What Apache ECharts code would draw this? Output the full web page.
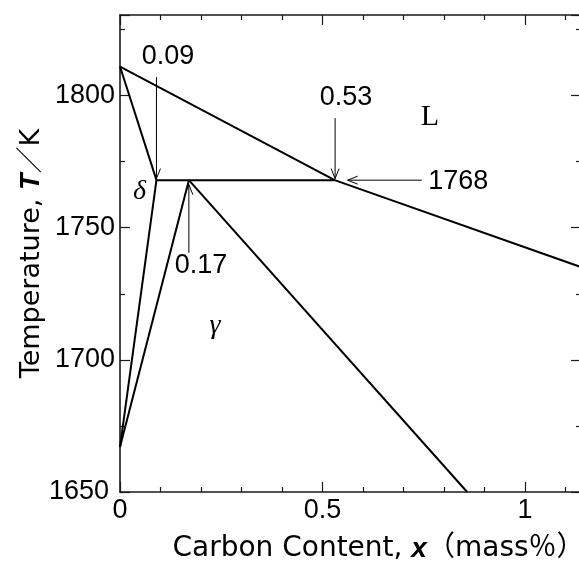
<!DOCTYPE html>
<html>
<head>
<meta charset="utf-8">
<script src="https://cdn.jsdelivr.net/npm/echarts@6/dist/echarts.min.js"></script>
<style>
html,body{margin:0;padding:0;background:#fff;}
#chart{width:579px;height:563px;}
</style>
</head>
<body>
<div id="chart"></div>
<script>
// ---- data ----
const X_MIN = 0, X_MAX = 1.138;
const Y_MIN = 1650, Y_MAX = 1830.5;

const liquidus      = [[0, 1811], [0.53, 1768], [1.14, 1735]];
const deltaSolidus  = [[0, 1811], [0.09, 1768]];
const peritectic    = [[0.09, 1768], [0.53, 1768]];
const deltaGammaA   = [[0.09, 1768], [0, 1667]];
const deltaGammaB   = [[0.17, 1768], [0, 1667]];
const gammaSolidus  = [[0.17, 1768], [0.857, 1650]];

// arrows: [tailX, tailT, headX, headT]
const arrows = [
  [0.09, 1807, 0.09, 1768.6],
  [0.531, 1791.5, 0.531, 1768.6],
  [0.745, 1768, 0.562, 1768],
  [0.17, 1740.5, 0.17, 1766.3]
];

const numLabels  = ['0.09', '0.53', '1768', '0.17'];
const numLabelX  = [0.1185, 0.558, 0.835, 0.200];
const numLabelT  = [1814.7, 1799.1, 1767.3, 1735.8];

const phaseLabels = ['L', 'δ', 'γ'];
const phaseItalic = [false, true, true];
const phaseX      = [0.765, 0.048, 0.2346];
const phaseT      = [1791.7, 1763.8, 1713.1];

// ---- chart ----
const chart = echarts.init(document.getElementById('chart'), null, {renderer: 'canvas'});
const SANS = '"Liberation Sans", Arial, sans-serif';
const WIDE = '"DejaVu Sans", "Noto Sans CJK JP", sans-serif';
const SERIF = '"Liberation Serif", "Times New Roman", serif';
function axisLine() { return {show: true, onZero: false, lineStyle: {color: '#1a1a1a', width: 1.6}}; }
function majorTick() { return {show: true, inside: true, length: 10, lineStyle: {color: '#1a1a1a', width: 1.2}}; }
function minorTick(n) { return {show: true, splitNumber: n, length: 5, lineStyle: {color: '#1a1a1a', width: 1.2}}; }

function lineSeries(d) {
  return {type: 'line', data: d, showSymbol: false, symbol: 'none',
          lineStyle: {color: '#000', width: 2}, animation: false, z: 3};
}

function titleRich(size) {
  return {
    r: {fontSize: size, fontFamily: WIDE, color: '#000'},
    b: {fontSize: size, fontFamily: SANS, fontWeight: 'bold', fontStyle: 'italic', color: '#000'}
  };
}

const option = {
  animation: false,
  backgroundColor: '#fff',
  grid: {left: 120, top: 15, width: 461, height: 477, containLabel: false, outerBoundsMode: 'none'},
  xAxis: [
    {type: 'value', position: 'bottom', min: X_MIN, max: X_MAX, interval: 0.5,
     axisLine: axisLine(), axisTick: majorTick(), minorTick: minorTick(5),
     splitLine: {show: false}, minorSplitLine: {show: false},
     axisLabel: {show: true, inside: false, margin: 5, color: '#000', fontSize: 27, fontFamily: SANS, showMaxLabel: false,
                 formatter: v => String(v)},
     name: '{r|Carbon Content, }{b|x}{r|（mass％）}',
     nameLocation: 'middle', nameGap: 43,
     nameTextStyle: {padding: [0, 0, 0, 56], rich: titleRich(28)}},
    {type: 'value', position: 'top', min: X_MIN, max: X_MAX, interval: 0.5,
     axisLine: axisLine(), axisTick: majorTick(), minorTick: minorTick(5),
     splitLine: {show: false}, axisLabel: {show: false}}
  ],
  yAxis: [
    {type: 'value', position: 'left', min: Y_MIN, max: Y_MAX, interval: 50,
     axisLine: axisLine(), axisTick: majorTick(), minorTick: minorTick(2),
     splitLine: {show: false},
     axisLabel: {show: true, inside: false, margin: 5, color: '#000', fontSize: 27, fontFamily: SANS, showMaxLabel: false,
                 formatter: v => (v === 1650 ? '{s|1650}' : String(v)),
                 rich: {s: {fontSize: 27, fontFamily: SANS, color: '#000', padding: [0, 6, 0, 0]}}},
     name: '{r|Temperature, }{b|T}{r|／K}',
     nameLocation: 'middle', nameGap: 75, nameMoveOverlap: false,
     nameTextStyle: {rich: titleRich(27)}},
    {type: 'value', position: 'right', min: Y_MIN, max: Y_MAX, interval: 50,
     axisLine: axisLine(), axisTick: majorTick(), minorTick: minorTick(2),
     splitLine: {show: false}, axisLabel: {show: false}}
  ],
  series: [
    lineSeries(liquidus),
    lineSeries(deltaSolidus),
    lineSeries(peritectic),
    lineSeries(deltaGammaA),
    lineSeries(deltaGammaB),
    lineSeries(gammaSolidus),
    {
      type: 'custom', coordinateSystem: 'cartesian2d', data: arrows, z: 4, silent: true,
      encode: {x: [0, 2], y: [1, 3]},
      renderItem: function (params, api) {
        const p1 = api.coord([api.value(0), api.value(1)]);
        const p2 = api.coord([api.value(2), api.value(3)]);
        const dx = p2[0] - p1[0], dy = p2[1] - p1[1];
        const len = Math.hypot(dx, dy) || 1;
        const ux = dx / len, uy = dy / len;
        const hl = 10, hw = 4;
        const b = [p2[0] - ux * hl, p2[1] - uy * hl];
        const l = [b[0] - uy * hw, b[1] + ux * hw];
        const r = [b[0] + uy * hw, b[1] - ux * hw];
        return {type: 'group', children: [
          {type: 'line', shape: {x1: p1[0], y1: p1[1], x2: p2[0], y2: p2[1]},
           style: {stroke: '#000', lineWidth: 1, fill: null}},
          {type: 'polyline', shape: {points: [l, p2, r]},
           style: {stroke: '#000', lineWidth: 1, fill: null}}
        ]};
      }
    },
    {
      type: 'custom', coordinateSystem: 'cartesian2d', z: 5, silent: true,
      data: numLabelX.map((x, i) => [x, numLabelT[i]]),
      renderItem: function (params, api) {
        const p = api.coord([api.value(0), api.value(1)]);
        return {type: 'text', x: p[0], y: p[1], style: {
          text: numLabels[params.dataIndex], fill: '#000',
          fontSize: 27, fontFamily: SANS, align: 'center', verticalAlign: 'middle'}};
      }
    },
    {
      type: 'custom', coordinateSystem: 'cartesian2d', z: 5, silent: true,
      data: phaseX.map((x, i) => [x, phaseT[i]]),
      renderItem: function (params, api) {
        const p = api.coord([api.value(0), api.value(1)]);
        const i = params.dataIndex;
        return {type: 'text', x: p[0], y: p[1], style: {
          text: phaseLabels[i], fill: '#000',
          fontSize: i === 0 ? 30 : 28, fontFamily: SERIF, fontStyle: phaseItalic[i] ? 'italic' : 'normal',
          align: 'center', verticalAlign: 'middle'}};
      }
    }
  ]
};
chart.setOption(option);
</script>
</body>
</html>
